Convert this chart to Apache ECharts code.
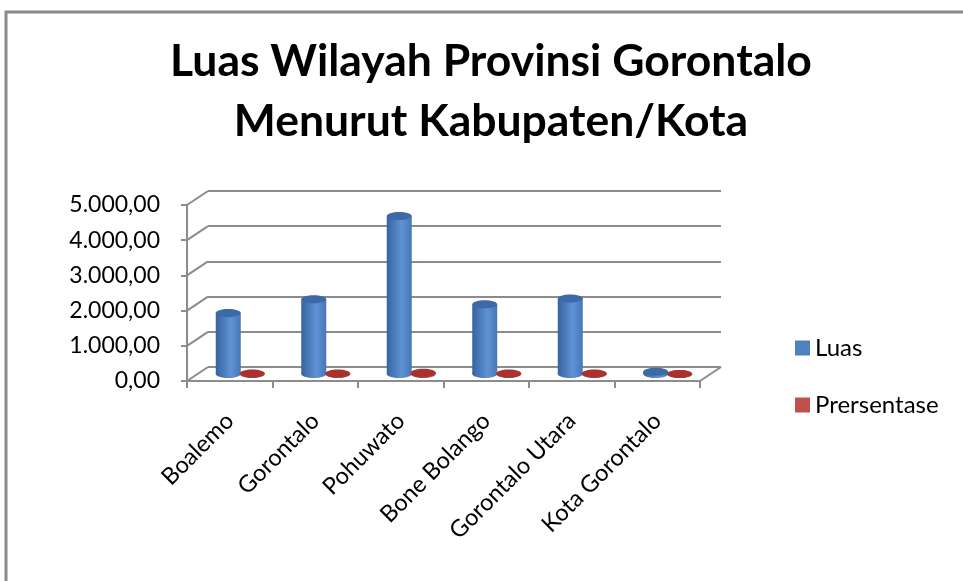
<!DOCTYPE html>
<html>
<head>
<meta charset="utf-8">
<script src="https://cdn.jsdelivr.net/npm/echarts@6/dist/echarts.min.js"></script>
<style>
  html, body { margin: 0; padding: 0; background: #fff; }
  #main { width: 963px; height: 581px; }
</style>
</head>
<body>
<div id="main"></div>
<script>
// data
var kabupaten = ['Boalemo', 'Gorontalo', 'Pohuwato', 'Bone Bolango', 'Gorontalo Utara', 'Kota Gorontalo'];
var luas = [1736.39, 2125.47, 4491.03, 1984.31, 2141.86, 64.79];
var persentase = [14.22, 17.40, 36.77, 16.25, 17.53, 0.53];
var yTicks = [0, 1000, 2000, 3000, 4000, 5000];

var chart = echarts.init(document.getElementById('main'));

var FONT = 'Lato, "Open Sans", sans-serif';
var GRID_COLOR = '#8c8c8c';
// depth offset of the 3D back wall (px)
var DX = 21, DY = -14;

function fmt(v) {
  // 5000 -> 5.000,00
  var s = Math.round(v).toString();
  s = s.replace(/\B(?=(\d{3})+(?!\d))/g, '.');
  return s + ',00';
}

function grad(c1, c2, c3) {
  return new echarts.graphic.LinearGradient(0, 0, 1, 0, [
    { offset: 0, color: c1 },
    { offset: 0.6, color: c2 },
    { offset: 1, color: c3 }
  ]);
}

// cylinder drawn through the axis scale
function cylinder(side, body, topColor) {
  return function (params, api) {
    var idx = api.value(0), v = api.value(1);
    var top = api.coord([idx, v]);
    var base = api.coord([idx, 0]);
    var rx = 12.5, ry = 4;
    var cx = top[0] + side * 12;
    var h = Math.max(base[1] - top[1], 0);
    return {
      type: 'group',
      children: [
        { type: 'ellipse', shape: { cx: cx, cy: base[1], rx: rx, ry: ry }, style: { fill: body } },
        { type: 'rect', shape: { x: cx - rx, y: top[1], width: rx * 2, height: h }, style: { fill: body } },
        { type: 'ellipse', shape: { cx: cx, cy: top[1], rx: rx, ry: ry }, style: { fill: topColor } }
      ]
    };
  };
}

var blueBody = grad('#35639f', '#5f93d3', '#4677b8');
var redBody = grad('#9a2f2c', '#c24a46', '#a8403c');

var option = {
  animation: false,
  backgroundColor: '#fff',
  title: {
    text: 'Luas Wilayah Provinsi Gorontalo\nMenurut Kabupaten/Kota',
    left: 491,
    textAlign: 'center',
    top: 32,
    padding: 0,
    textStyle: { fontFamily: FONT, fontSize: 44.5, fontWeight: 'bold', color: '#000', lineHeight: 60 }
  },
  legend: {
    data: ['Luas', 'Prersentase'],
    orient: 'vertical',
    left: 790,
    top: 330,
    icon: 'rect',
    itemWidth: 15,
    itemHeight: 15,
    itemGap: 31,
    textStyle: { fontFamily: FONT, fontSize: 24, lineHeight: 26, color: '#000' }
  },
  graphic: [
    { type: 'rect', shape: { x: 6, y: 12, width: 980, height: 600 }, style: { fill: 'none', stroke: '#8a8a8a', lineWidth: 3 } }
  ],
  grid: [
    { left: 187, top: 205, width: 513, height: 176 },                 // front axes
    { left: 187 + DX, top: 205 + DY, width: 513, height: 176 },       // back wall
    { left: 187 + DX / 2, top: 205 + DY / 2, width: 513, height: 176 } // bars (mid depth)
  ],
  xAxis: [
    {
      gridIndex: 0, type: 'category', data: kabupaten,
      axisLine: { lineStyle: { color: GRID_COLOR, width: 2 } },
      axisTick: { show: true, length: 7, lineStyle: { color: GRID_COLOR, width: 2 } },
      axisLabel: { rotate: 45, margin: 36, fontFamily: FONT, fontSize: 23.5, color: '#000', interval: 0 }
    },
    { gridIndex: 1, type: 'category', data: kabupaten, show: false },
    { gridIndex: 2, type: 'category', data: kabupaten, show: false }
  ],
  yAxis: [
    {
      gridIndex: 0, type: 'value', min: 0, max: 5000, interval: 1000,
      axisLine: { show: true, lineStyle: { color: GRID_COLOR, width: 2 } },
      axisTick: { show: true, length: 6, lineStyle: { color: GRID_COLOR, width: 2 } },
      splitLine: { show: false },
      axisLabel: { formatter: fmt, margin: 27, padding: [8, 0, 0, 0], fontFamily: FONT, fontSize: 23, color: '#000' }
    },
    {
      gridIndex: 1, type: 'value', min: 0, max: 5000, interval: 1000,
      axisLine: { show: false }, axisTick: { show: false }, axisLabel: { show: false },
      splitLine: { show: true, lineStyle: { color: GRID_COLOR, width: 2 } }
    },
    {
      gridIndex: 2, type: 'value', min: 0, max: 5000, interval: 1000, show: false,
      splitLine: { show: false }
    }
  ],
  series: [
    {
      // diagonal connectors between front axis and back wall
      type: 'custom',
      xAxisIndex: 0, yAxisIndex: 0,
      silent: true,
      data: yTicks.map(function (v) { return [0, v]; }),
      renderItem: function (params, api) {
        var cs = params.coordSys;
        var y = api.coord([0, api.value(1)])[1];
        var children = [{
          type: 'line',
          shape: { x1: cs.x, y1: y, x2: cs.x + DX, y2: y + DY },
          style: { stroke: GRID_COLOR, lineWidth: 2 }
        }];
        if (api.value(1) === 0) {
          children.push({
            type: 'line',
            shape: { x1: cs.x + cs.width, y1: y, x2: cs.x + cs.width + DX, y2: y + DY },
            style: { stroke: GRID_COLOR, lineWidth: 2 }
          });
        }
        return { type: 'group', children: children };
      }
    },
    {
      name: 'Luas',
      type: 'custom',
      xAxisIndex: 2, yAxisIndex: 2,
      itemStyle: { color: '#4f81bd' },
      data: luas.map(function (v, i) { return [i, v]; }),
      renderItem: cylinder(-1, blueBody, '#3d6aa6')
    },
    {
      name: 'Prersentase',
      type: 'custom',
      xAxisIndex: 2, yAxisIndex: 2,
      itemStyle: { color: '#c0504d' },
      data: persentase.map(function (v, i) { return [i, v]; }),
      renderItem: cylinder(1, redBody, '#a8322f')
    }
  ]
};

chart.setOption(option);
</script>
</body>
</html>
